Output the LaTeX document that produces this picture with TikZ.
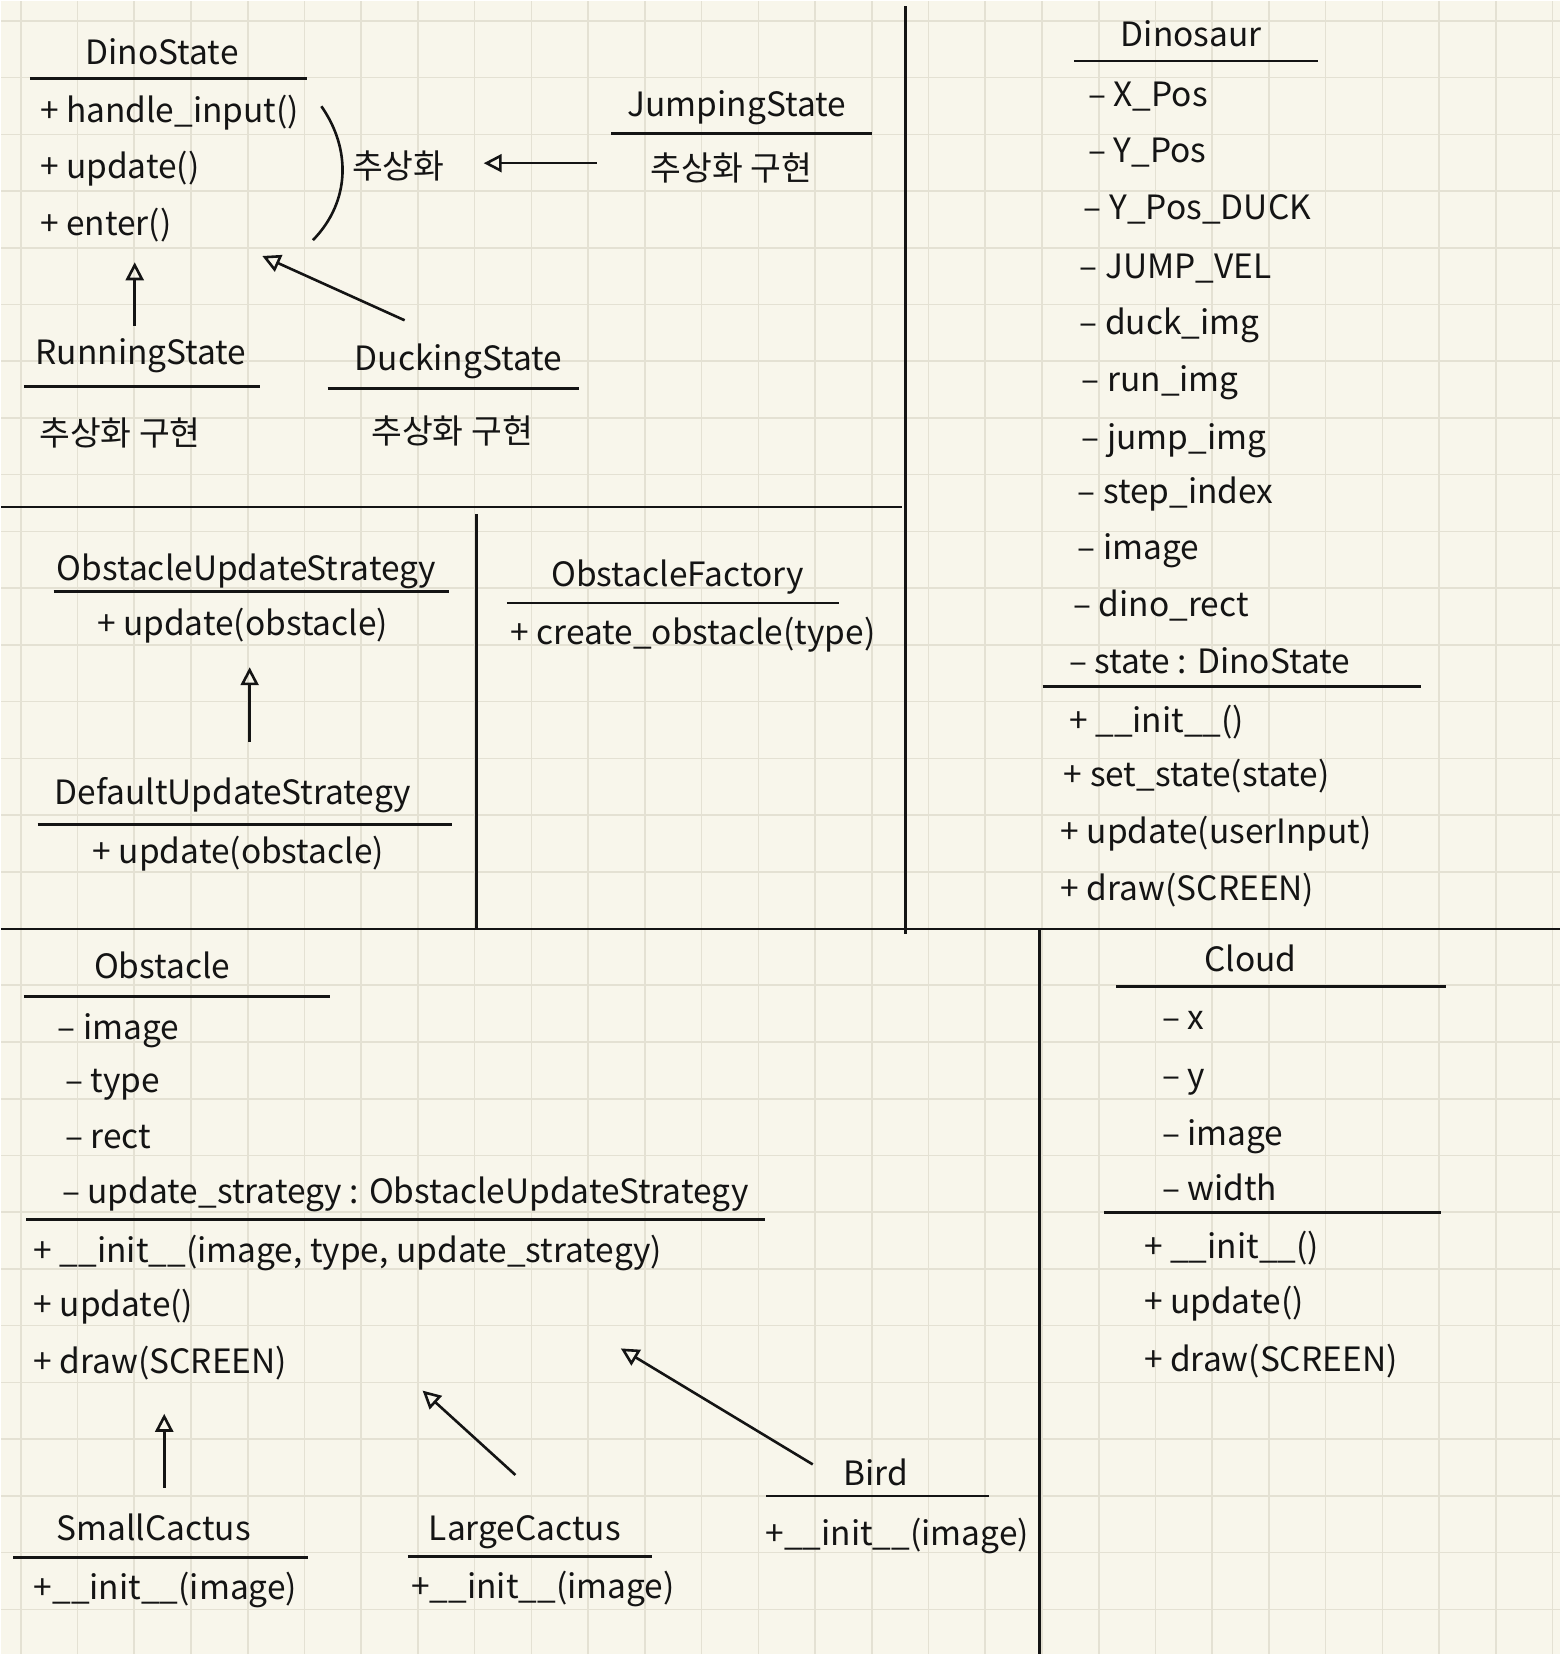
\documentclass[tikz,border=0pt]{standalone}
\usepackage{fontspec}
\setmainfont{Noto Sans CJK KR}
\usetikzlibrary{arrows.meta}
\definecolor{paper}{HTML}{F8F6EB}
\definecolor{gridc}{HTML}{E4E1D3}
\definecolor{ink}{HTML}{141414}
\def\gridsep{53.8}

\begin{document}
\begin{tikzpicture}[x=1.0554pt,y=-1.0554pt,color=ink,line width=2.6pt,font=\fontsize{33.5}{40}\selectfont]
    \tikzstyle{gridline}=[draw=gridc,line width=1.6pt]
    \tikzstyle{txt}=[inner sep=0pt,text height=0.75em,text depth=0.2em,yshift=-8pt]
    \tikzstyle{title}=[txt]
    \tikzstyle{member}=[txt,anchor=west]
    \tikzstyle{divider}=[line width=2.4pt]
    \tikzstyle{underline}=[line width=2.8pt]
    \tikzstyle{inherit}=[-{Triangle[open,length=18pt,width=18pt]}]

    % Draw the paper and its grid
    \fill[paper] (0,0) rectangle (1479,1568);
    \foreach \i in {0,...,27}
        \draw[gridline] (19+\gridsep*\i,0) -- (19+\gridsep*\i,1568);
    \foreach \i in {0,...,28}
        \draw[gridline] (0,19+\gridsep*\i) -- (1479,19+\gridsep*\i);
    \useasboundingbox (0,0) rectangle (1479,1568);

    % Split the page in regions
    \draw[divider] (858,5) -- (858,885);
    \draw[divider] (0,480) -- (855,480);
    \draw[divider] (451,487) -- (451,880);
    \draw[divider] (0,880) -- (1479,880);
    \draw[divider] (985,880) -- (985,1568);

    % DinoState and its states
    \node[title] (DS) at (153,50) {DinoState};
    \draw[underline] (28,74) -- (290,74);
    \foreach \name / \y / \txt in {1/105/{+ handle\_input()},2/158/{+ update()},3/212/{+ enter()}}
        \node[member] (DS-\name) at (36,\y) {\txt};
    \draw (304,100) .. controls (332,140) and (332,190) .. (296,227);
    \node[txt] (abs) at (377,158) {추상화};

    \node[title] (JS) at (698,100) {JumpingState};
    \draw[underline] (579,126) -- (826,126);
    \node[txt] (JS-1) at (693,160) {추상화 구현};

    \node[title] (RS) at (133,335) {RunningState};
    \draw[underline] (22,366) -- (246,366);
    \node[txt] (RS-1) at (113,412) {추상화 구현};

    \node[title] (DkS) at (434,340) {DuckingState};
    \draw[underline] (310,368) -- (548,368);
    \node[txt] (DkS-1) at (428,410) {추상화 구현};

    \coordinate (JS-tail) at (565,154);
    \coordinate (abs-tip) at (458,154);
    \coordinate (RS-tail) at (127,308);
    \coordinate (RS-tip) at (127,248);
    \coordinate (DkS-tail) at (383,303);
    \coordinate (DkS-tip) at (248,242);
    \draw[inherit] (JS-tail) -- (abs-tip);
    \draw[inherit] (RS-tail) -- (RS-tip);
    \draw[inherit] (DkS-tail) -- (DkS-tip);

    % Dinosaur
    \node[title] (Dino) at (1129,33) {Dinosaur};
    \draw[underline] (1018,57) -- (1249,57);
    \foreach \name / \x / \y / \txt in {1/1030/90/{– X\_Pos},2/1030/143/{– Y\_Pos},
            3/1026/197/{– Y\_Pos\_DUCK},4/1022/253/{– JUMP\_VEL},5/1022/306/{– duck\_img},
            6/1024/360/{– run\_img},7/1024/415/{– jump\_img},8/1020/467/{– step\_index},
            9/1020/520/{– image},10/1016/574/{– dino\_rect},11/1012/628/{– state : DinoState}}
        \node[member] (Dino-a\name) at (\x,\y) {\txt};
    \draw[underline] (988,650) -- (1347,650);
    \foreach \name / \x / \y / \txt in {1/1012/684/{+ \_\_init\_\_()},2/1007/735/{+ set\_state(state)},
            3/1004/789/{+ update(userInput)},4/1004/843/{+ draw(SCREEN)}}
        \node[member] (Dino-m\name) at (\x,\y) {\txt};

    % Update strategies
    \node[title] (OUS) at (233,540) {ObstacleUpdateStrategy};
    \draw[underline] (50,560) -- (425,560);
    \node[member] (OUS-1) at (90,592) {+ update(obstacle)};
    \node[title] (DUS) at (220,752) {DefaultUpdateStrategy};
    \draw[underline] (35,781) -- (428,781);
    \node[member] (DUS-1) at (86,808) {+ update(obstacle)};
    \coordinate (DUS-tail) at (236,703);
    \coordinate (DUS-tip) at (236,632);
    \draw[inherit] (DUS-tail) -- (DUS-tip);

    % ObstacleFactory
    \node[title] (OF) at (642,545) {ObstacleFactory};
    \draw[underline] (480,571) -- (795,571);
    \node[member] (OF-1) at (482,600) {+ create\_obstacle(type)};

    % Obstacle and its kinds
    \node[title] (Obs) at (153,917) {Obstacle};
    \draw[underline] (22,944) -- (312,944);
    \foreach \name / \x / \y / \txt in {1/53/975/{– image},2/60/1025/{– type},3/60/1078/{– rect},
            4/57/1130/{– update\_strategy : ObstacleUpdateStrategy}}
        \node[member] (Obs-a\name) at (\x,\y) {\txt};
    \draw[underline] (24,1156) -- (725,1156);
    \foreach \name / \y / \txt in {1/1186/{+ \_\_init\_\_(image, type, update\_strategy)},
            2/1238/{+ update()},3/1292/{+ draw(SCREEN)}}
        \node[member] (Obs-m\name) at (30,\y) {\txt};

    \node[title] (SC) at (145,1450) {SmallCactus};
    \draw[underline] (12,1476) -- (291,1476);
    \node[member] (SC-1) at (30,1506) {+\_\_init\_\_(image)};

    \node[title] (LC) at (497,1450) {LargeCactus};
    \draw[underline] (386,1475) -- (618,1475);
    \node[member] (LC-1) at (388,1505) {+\_\_init\_\_(image)};

    \node[title] (Bird) at (830,1398) {Bird};
    \draw[underline] (726,1418) -- (937,1418);
    \node[member] (Bird-1) at (724,1455) {+\_\_init\_\_(image)};

    \coordinate (SC-tail) at (155,1410);
    \coordinate (SC-tip) at (155,1340);
    \coordinate (LC-tail) at (488,1398);
    \coordinate (LC-tip) at (400,1318);
    \coordinate (Bird-tail) at (770,1388);
    \coordinate (Bird-tip) at (588,1278);
    \draw[inherit] (SC-tail) -- (SC-tip);
    \draw[inherit] (LC-tail) -- (LC-tip);
    \draw[inherit] (Bird-tail) -- (Bird-tip);

    % Cloud
    \node[title] (Cloud) at (1185,910) {Cloud};
    \draw[underline] (1058,935) -- (1371,935);
    \foreach \name / \y / \txt in {1/965/{– x},2/1020/{– y},3/1075/{– image},4/1128/{– width}}
        \node[member] (Cloud-a\name) at (1100,\y) {\txt};
    \draw[underline] (1046,1149) -- (1366,1149);
    \foreach \name / \y / \txt in {1/1183/{+ \_\_init\_\_()},2/1235/{+ update()},3/1290/{+ draw(SCREEN)}}
        \node[member] (Cloud-m\name) at (1083,\y) {\txt};
\end{tikzpicture}
\end{document}
